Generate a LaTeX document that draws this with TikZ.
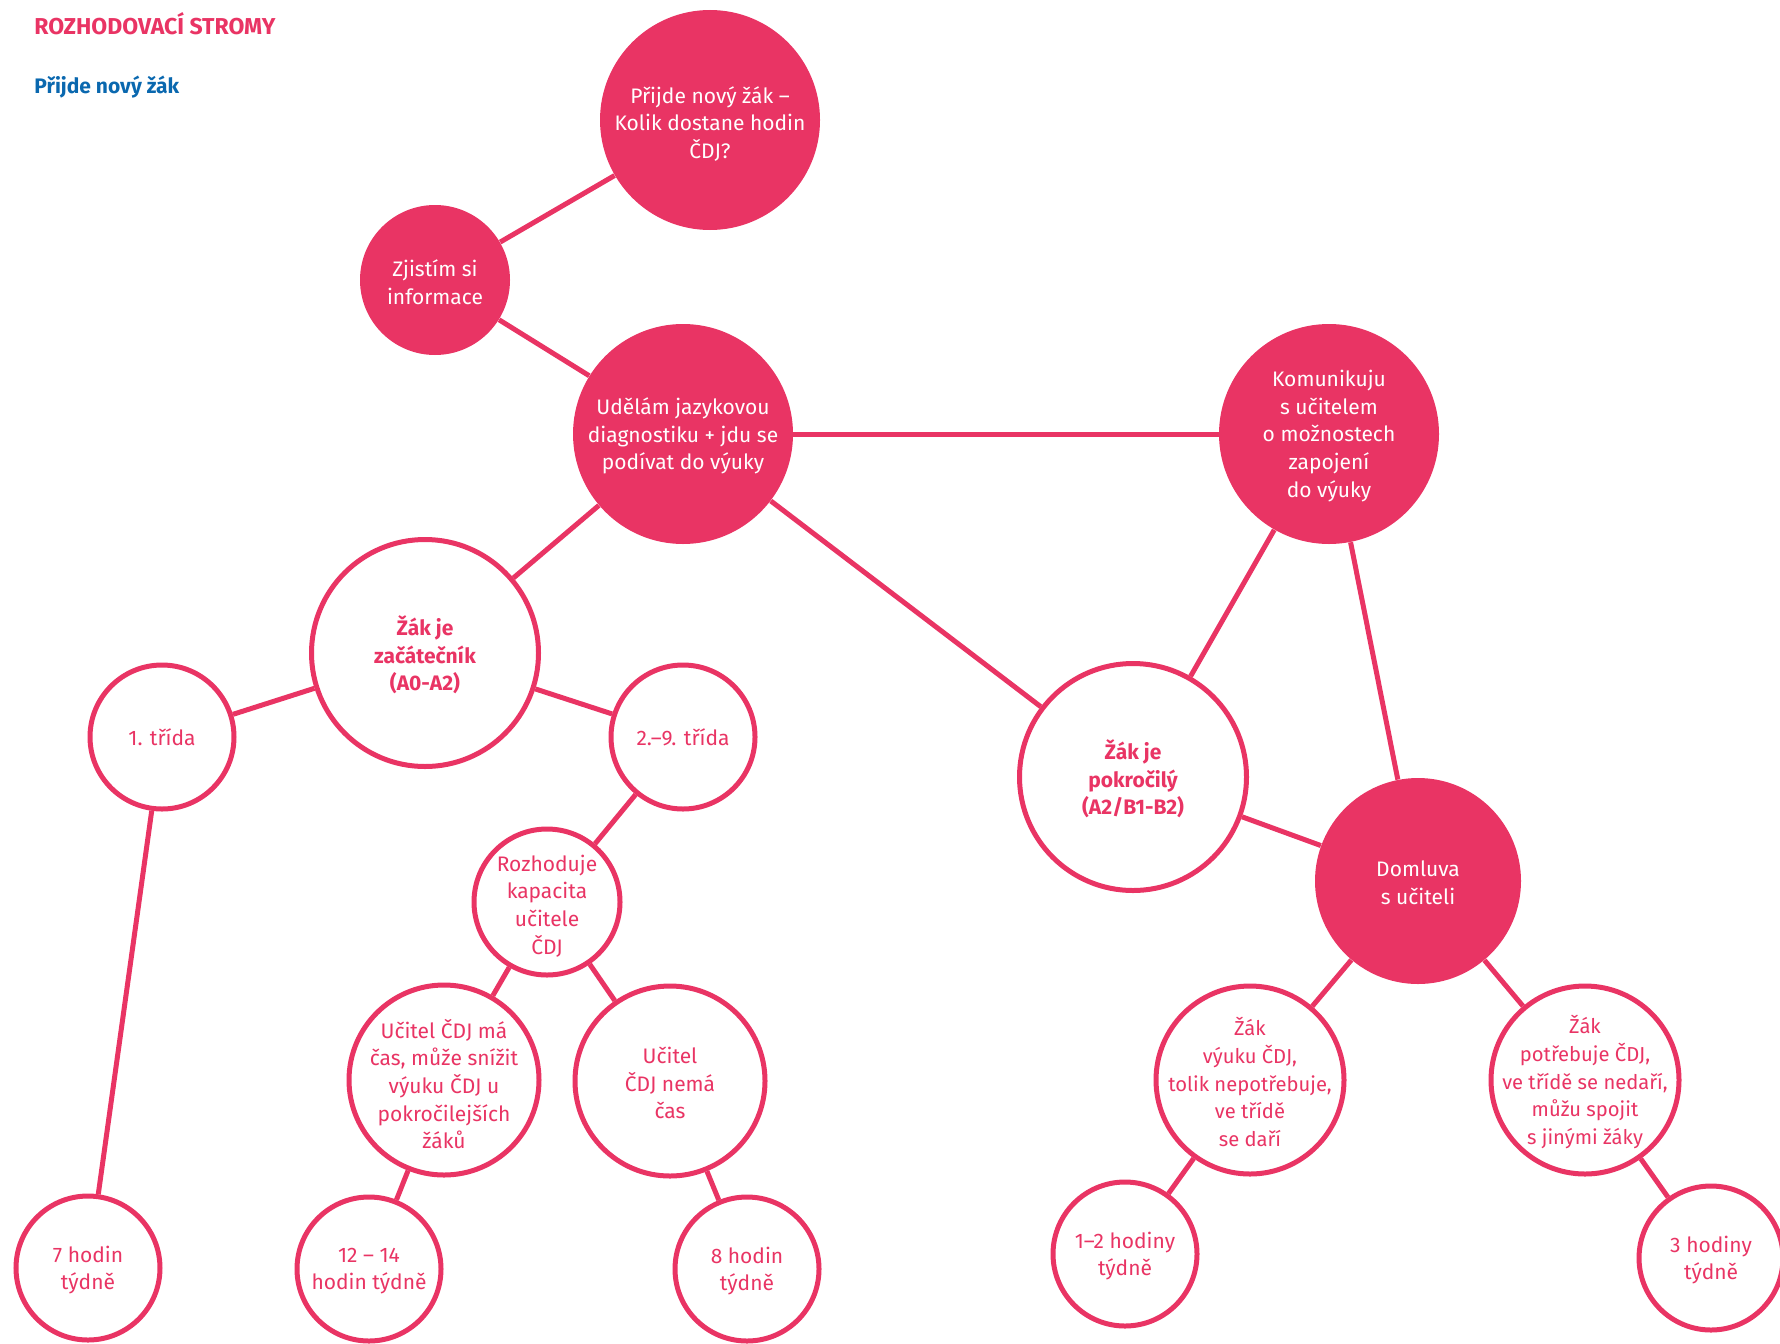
\documentclass[tikz,border=0pt]{standalone}
\usepackage{fontspec}
\setmainfont{Fira Sans}
\definecolor{pinkc}{HTML}{E93464}
\definecolor{bluec}{HTML}{0A68AF}
\tikzset{
  edge/.style={draw=pinkc, line width=2.5pt},
  fillc/.style={circle, fill=pinkc, inner sep=0pt},
  outc/.style={circle, draw=pinkc, line width=2.5pt, fill=white, inner sep=0pt},
  wtxt/.style={text=white, inner sep=0pt, align=center, font=\fontsize{10.5}{13.8}\selectfont},
  ptxt/.style={text=pinkc, inner sep=0pt, align=center, font=\fontsize{10.5}{13.8}\selectfont},
  stxt/.style={ptxt, font=\fontsize{10.1}{13.8}\selectfont},
  btxt/.style={ptxt, font=\fontsize{10.5}{13.8}\selectfont\bfseries},
}
\begin{document}
\begin{tikzpicture}[x=0.5pt,y=-0.5pt]
\useasboundingbox (0,0) rectangle (1780,1343);
\begin{scope}
\clip (0,0) rectangle (1780,1343);
% circles (minimum size in pt = radius in px)
\node[fillc, minimum size=110pt] (n1) at (710,120) {};
\node[fillc, minimum size=75pt] (n2) at (435,280) {};
\node[fillc, minimum size=110pt] (n3) at (683,434) {};
\node[fillc, minimum size=110pt] (n4) at (1329,434) {};
\node[outc, minimum size=113.5pt] (n5) at (425,653) {};
\node[outc, minimum size=72pt] (n6) at (162,737) {};
\node[outc, minimum size=72pt] (n7) at (683,737) {};
\node[outc, minimum size=73pt] (n8) at (547,902) {};
\node[outc, minimum size=95pt] (n9) at (444,1080) {};
\node[outc, minimum size=95pt] (n10) at (670,1081) {};
\node[outc, minimum size=72pt] (n11) at (88,1268) {};
\node[outc, minimum size=72pt] (n12) at (369,1269) {};
\node[outc, minimum size=72pt] (n13) at (747,1269) {};
\node[outc, minimum size=113.5pt] (n14) at (1133,777) {};
\node[fillc, minimum size=103pt] (n15) at (1418,881) {};
\node[outc, minimum size=94pt] (n16) at (1250,1080) {};
\node[outc, minimum size=94pt] (n17) at (1585,1080) {};
\node[outc, minimum size=72pt] (n18) at (1125,1254) {};
\node[outc, minimum size=72pt] (n19) at (1711,1258) {};
% texts
\node[wtxt] (t1) at ([yshift=-2pt]n1) {Přijde nový žák –\\Kolik dostane hodin\\ČDJ?};
\node[wtxt] (t2) at ([yshift=-1pt]n2) {Zjistím si\\informace};
\node[wtxt] (t3) at ([yshift=-1pt]n3) {Udělám jazykovou\\diagnostiku + jdu se\\podívat do výuky};
\node[wtxt] (t4) at ([yshift=-1pt]n4) {Komunikuju\\s učitelem\\o možnostech\\zapojení\\do výuky};
\node[btxt] (t5) at ([yshift=-1pt]n5) {Žák je\\začátečník\\(A0-A2)};
\node[ptxt] (t6) at (n6) {1. třída};
\node[ptxt] (t7) at (n7) {2.–9. třída};
\node[ptxt] (t8) at ([yshift=-2pt]n8) {Rozhoduje\\kapacita\\učitele\\ČDJ};
\node[ptxt] (t9) at ([yshift=-2pt]n9) {Učitel ČDJ má\\čas, může snížit\\výuku ČDJ u\\pokročilejších\\žáků};
\node[ptxt] (t10) at ([yshift=-1pt]n10) {Učitel\\ČDJ nemá\\čas};
\node[ptxt] (t11) at ([yshift=-1pt]n11) {7 hodin\\týdně};
\node[ptxt] (t12) at ([yshift=-1pt]n12) {12 – 14\\hodin týdně};
\node[ptxt] (t13) at ([yshift=-1pt]n13) {8 hodin\\týdně};
\node[btxt] (t14) at ([yshift=-1pt]n14) {Žák je\\pokročilý\\(A2/B1-B2)};
\node[wtxt] (t15) at ([yshift=-1pt]n15) {Domluva\\s učiteli};
\node[stxt] (t16) at ([yshift=-1pt]n16) {Žák\\výuku ČDJ,\\tolik nepotřebuje,\\ve třídě\\se daří};
\node[stxt] (t17) at ([yshift=-1pt]n17) {Žák\\potřebuje ČDJ,\\ve třídě se nedaří,\\můžu spojit\\s jinými žáky};
\node[ptxt] (t18) at ([yshift=-1pt]n18) {1–2 hodiny\\týdně};
\node[ptxt] (t19) at ([yshift=-1pt]n19) {3 hodiny\\týdně};
% edges
\draw[edge] (n1) -- (n2);
\draw[edge] (n2) -- (n3);
\draw[edge] (n3) -- (n4);
\draw[edge] (n3) -- (n5);
\draw[edge] (n3) -- (n14);
\draw[edge] (n4) -- (n14);
\draw[edge] (n4) -- (n15);
\draw[edge] (n14) -- (n15);
\draw[edge] (n5) -- (n6);
\draw[edge] (n5) -- (n7);
\draw[edge] (n6) -- (n11);
\draw[edge] (n7) -- (n8);
\draw[edge] (n8) -- (n9);
\draw[edge] (n8) -- (n10);
\draw[edge] (n9) -- (n12);
\draw[edge] (n10) -- (n13);
\draw[edge] (n15) -- (n16);
\draw[edge] (n15) -- (n17);
\draw[edge] (n16) -- (n18);
\draw[edge] (n17) -- (n19);
\end{scope}
% titles
\node[anchor=base west, inner sep=0pt, text=pinkc, font=\fontsize{11.5}{13}\selectfont\bfseries] (title) at (34,35) {ROZHODOVACÍ STROMY};
\node[anchor=base west, inner sep=0pt, text=bluec, font=\fontsize{10.5}{12}\selectfont\bfseries] (sub) at (34,94) {Přijde nový žák};
\end{tikzpicture}
\end{document}
